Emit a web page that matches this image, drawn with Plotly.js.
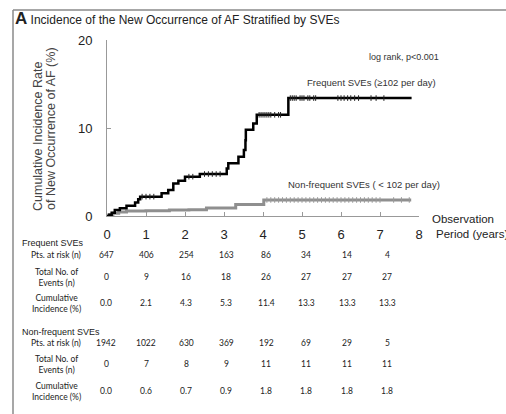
<!DOCTYPE html>
<html><head><meta charset="utf-8">
<script src="https://cdn.plot.ly/plotly-3.0.1.min.js"></script>
<style>html,body{margin:0;padding:0;background:#fff}#chart{width:506px;height:414px}</style>
</head><body><div id="chart"></div>
<script>
// ---- Data ----
var freqX = [0, 0.06, 0.12, 0.20, 0.33, 0.50, 0.72, 0.80, 0.85, 1.40, 1.57, 1.70, 1.83, 2.00, 2.38, 3.07, 3.11, 3.37, 3.51, 3.55, 3.56, 3.75, 3.84, 4.65, 7.81];
var freqY = [0, 0.15, 0.38, 0.68, 0.87, 1.17, 1.52, 1.89, 2.2, 2.58, 2.95, 3.7, 4.0, 4.47, 4.77, 5.4, 6.0, 6.74, 7.5, 8.6, 9.8, 10.5, 11.5, 13.4, 13.4];
var freqCensX = [0.9, 1.0, 1.1, 1.2, 2.1, 2.2, 2.5, 2.6, 2.7, 2.8, 2.9, 3.9, 3.95, 4.0, 4.05, 4.1, 4.15, 4.2, 4.3, 4.4, 4.45, 4.7, 4.75, 4.8, 4.85, 4.95, 5.0, 5.05, 5.15, 5.2, 5.3, 5.35, 5.92, 6.0, 6.08, 6.17, 6.25, 6.35, 6.45, 6.77, 6.9, 7.1];
var freqCensY = [2.2, 2.2, 2.2, 2.2, 4.47, 4.47, 4.77, 4.77, 4.77, 4.77, 4.77, 11.5, 11.5, 11.5, 11.5, 11.5, 11.5, 11.5, 11.5, 11.5, 11.5, 13.4, 13.4, 13.4, 13.4, 13.4, 13.4, 13.4, 13.4, 13.4, 13.4, 13.4, 13.4, 13.4, 13.4, 13.4, 13.4, 13.4, 13.4, 13.4, 13.4, 13.4];

var nonX = [0, 0.05, 0.15, 0.30, 0.50, 1.00, 1.60, 2.10, 2.55, 3.30, 4.02, 7.80];
var nonY = [0, 0.15, 0.30, 0.45, 0.57, 0.60, 0.68, 0.72, 0.92, 1.30, 1.82, 1.82];
var nonCensX = [4.1, 4.2, 4.3, 4.4, 4.5, 4.6, 4.7, 4.8, 4.9, 5.0, 5.1, 5.2, 5.3, 5.4, 5.5, 5.6, 5.7, 5.8, 5.9, 6.0, 6.1, 6.2, 6.3, 6.4, 6.5, 6.6, 6.7, 6.8, 6.9, 7.0, 7.35, 7.55, 7.75];
var nonCensY = [1.82, 1.82, 1.82, 1.82, 1.82, 1.82, 1.82, 1.82, 1.82, 1.82, 1.82, 1.82, 1.82, 1.82, 1.82, 1.82, 1.82, 1.82, 1.82, 1.82, 1.82, 1.82, 1.82, 1.82, 1.82, 1.82, 1.82, 1.82, 1.82, 1.82, 1.82, 1.82, 1.82];

var xTicks = [0, 1, 2, 3, 4, 5, 6, 7, 8];
var yTicks = [0, 10, 20];

var freqAtRisk = ['647', '406', '254', '163', '86', '34', '14', '4'];
var freqEvents = ['0', '9', '16', '18', '26', '27', '27', '27'];
var freqCum = ['0.0', '2.1', '4.3', '5.3', '11.4', '13.3', '13.3', '13.3'];
var nonAtRisk = ['1942', '1022', '630', '369', '192', '69', '29', '5'];
var nonEvents = ['0', '7', '8', '9', '11', '11', '11', '11'];
var nonCum = ['0.0', '0.6', '0.7', '0.9', '1.8', '1.8', '1.8', '1.8'];

// ---- Layout helpers (pixel -> paper) ----
var L = 107, R = 419, T = 40, B = 216, W = 506, H = 414;
function px(x){ return (x - L) / (R - L); }
function py(y){ return (B - y) / (B - T); }

var traces = [
  {x: nonX, y: nonY, type: 'scatter', mode: 'lines', line: {shape: 'hv', color: '#8f8f8f', width: 3}, hoverinfo: 'skip'},
  {x: nonCensX, y: nonCensY, type: 'scatter', mode: 'markers', marker: {symbol: 'line-ns', size: 4, line: {color: '#9a9a9a', width: 1}}, hoverinfo: 'skip'},
  {x: freqX, y: freqY, type: 'scatter', mode: 'lines', line: {shape: 'hv', color: '#000', width: 2.5}, hoverinfo: 'skip'},
  {x: freqCensX, y: freqCensY, type: 'scatter', mode: 'markers', marker: {symbol: 'line-ns', size: 4, line: {color: '#222', width: 1}}, hoverinfo: 'skip'}
];

var ann = [];
function addText(text, x, y, opts){
  opts = opts || {};
  ann.push({text: text, xref: 'paper', yref: 'paper', x: px(x), y: py(y), showarrow: false,
    xanchor: opts.xa || 'center', yanchor: 'middle', align: opts.align || 'center',
    font: {family: opts.fam || 'Liberation Sans, Arial, sans-serif', size: opts.size || 10, color: opts.color || '#222'},
    textangle: opts.angle || 0});
}
var tblFont = 'Lato, Calibri, sans-serif';
// y-axis title (two rotated lines)
addText('Cumulative Incidence Rate', 38, 137, {size: 12.5, angle: -90, color: '#444'});
addText('of New Occurrence of AF (%)', 51, 129, {size: 12.5, angle: -90, color: '#444'});
// in-plot labels
addText('log rank, p<0.001', 441, 57, {xa: 'right', size: 9, color: '#333'});
addText('Frequent SVEs (\u2265102 per day)', 438, 82, {xa: 'right', size: 9.5, color: '#333'});
addText('Non-frequent SVEs ( < 102 per day)', 442, 184, {xa: 'right', size: 9.5, color: '#333'});
addText('Observation', 430, 219, {xa: 'left', size: 11.5, color: '#222'});
addText('Period (years)', 434, 234, {xa: 'left', size: 11.5, color: '#222'});

// table
var colX = [106, 146, 186, 226, 266, 306, 347, 387];
function row(vals, y){ vals.forEach(function(v, i){ addText(v, colX[i], y, {fam: tblFont, size: 8.5, color: '#222'}); }); }
addText('Frequent SVEs', 20, 243, {xa: 'left', size: 9, color: '#222'});
addText('Pts. at risk (n)', 56, 255, {fam: tblFont, size: 8.5});
row(freqAtRisk, 255);
addText('Total No. of<br>Events (n)', 56, 277, {fam: tblFont, size: 8.5});
row(freqEvents, 277);
addText('Cumulative<br>Incidence (%)', 56, 303, {fam: tblFont, size: 8.5});
row(freqCum, 303);
addText('Non-frequent SVEs', 20, 332, {xa: 'left', size: 9, color: '#222'});
addText('Pts. at risk (n)', 56, 343, {fam: tblFont, size: 8.5});
row(nonAtRisk, 343);
addText('Total No. of<br>Events (n)', 56, 364, {fam: tblFont, size: 8.5});
row(nonEvents, 364);
addText('Cumulative<br>Incidence (%)', 56, 391, {fam: tblFont, size: 8.5});
row(nonCum, 391);

var shapes = [
  {type: 'line', xref: 'paper', yref: 'paper', x0: px(13), x1: px(520), y0: py(10), y1: py(10), line: {color: '#8a8a8a', width: 1.5}},
  {type: 'line', xref: 'paper', yref: 'paper', x0: px(13), x1: px(13), y0: py(10), y1: py(430), line: {color: '#8a8a8a', width: 1.5}}
];

var layout = {
  width: W, height: H,
  margin: {l: L, r: W - R, t: T, b: H - B, pad: 0},
  paper_bgcolor: '#fff', plot_bgcolor: '#fff',
  showlegend: false,
  title: {text: '<span style="font-size:17px"><b>A</b></span> Incidence of the New Occurrence of AF Stratified by SVEs',
    x: 15 / W, xanchor: 'left', xref: 'container', y: 1 - 20 / H, yanchor: 'middle', yref: 'container',
    font: {family: 'Liberation Sans, Arial, sans-serif', size: 12, color: '#222'}},
  xaxis: {range: [0, 8], tickvals: xTicks, ticktext: xTicks.map(String), ticks: 'inside', ticklen: 4, tickcolor: '#999',
    showline: true, linecolor: '#999', linewidth: 1, showgrid: false, zeroline: false, ticklabelstandoff: 6,
    tickfont: {family: 'Liberation Sans, Arial, sans-serif', size: 13, color: '#222'}, fixedrange: true},
  yaxis: {range: [0, 20], tickvals: yTicks, ticktext: yTicks.map(String), ticks: 'inside', ticklen: 4, tickcolor: '#999',
    showline: true, linecolor: '#999', linewidth: 1, showgrid: false, zeroline: false, ticklabelstandoff: 11,
    tickfont: {family: 'Liberation Sans, Arial, sans-serif', size: 13, color: '#222'}, fixedrange: true},
  annotations: ann,
  shapes: shapes
};
Plotly.newPlot('chart', traces, layout, {staticPlot: true, displayModeBar: false});
</script></body></html>
